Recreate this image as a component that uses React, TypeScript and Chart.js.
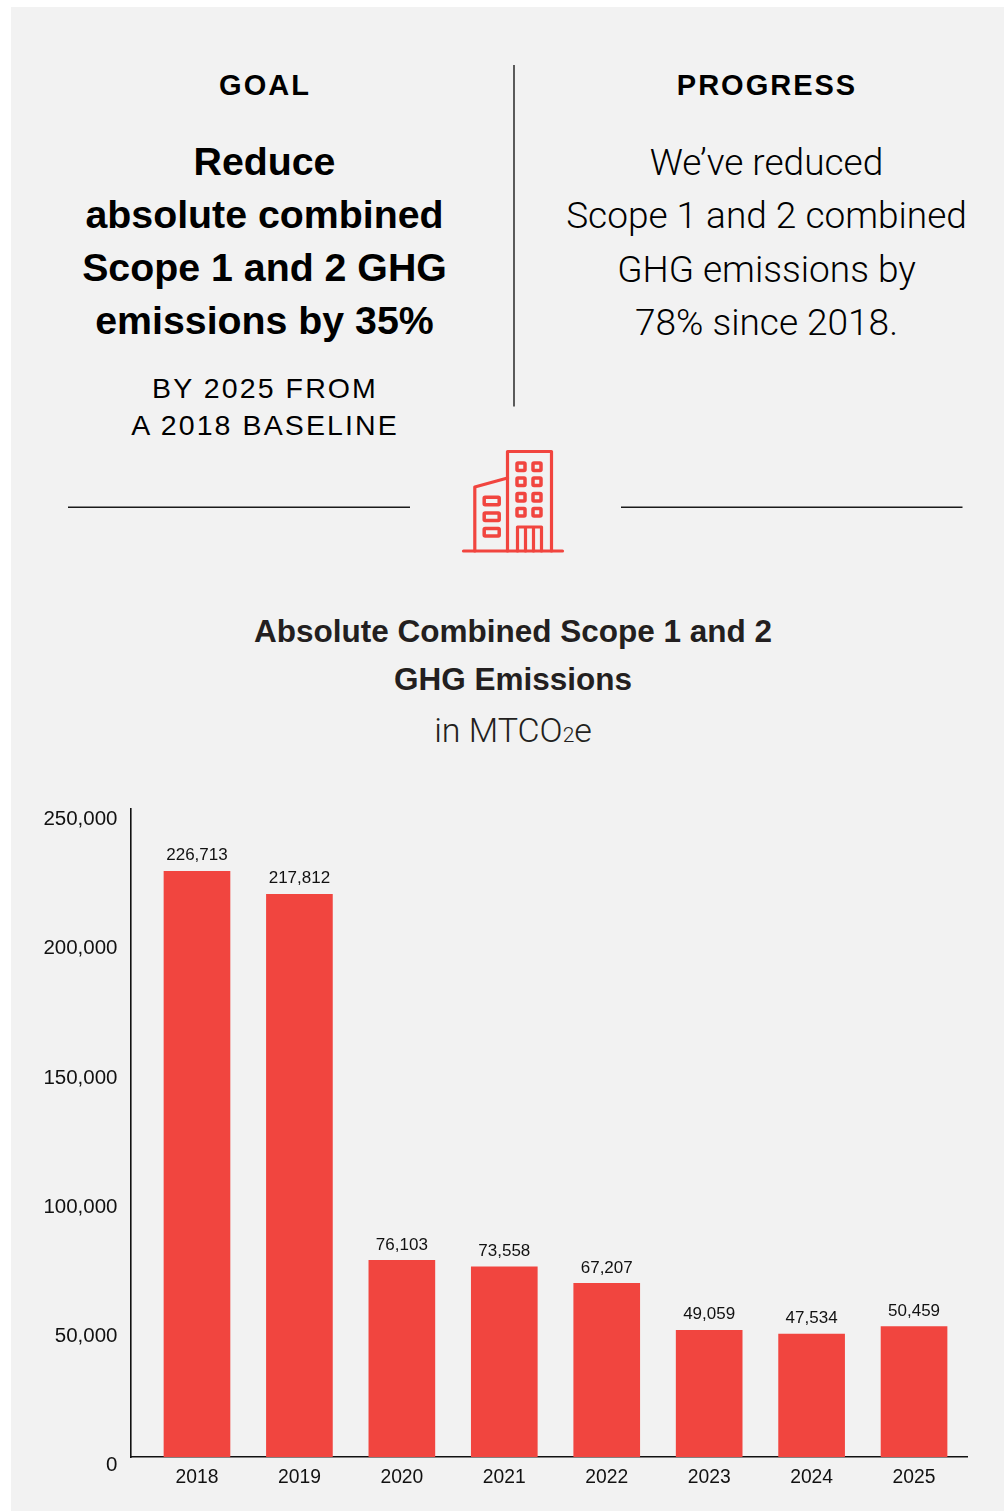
import React, { useEffect, useRef } from "react";
import { Chart, registerables } from "chart.js";

Chart.register(...registerables);

const years = [2018, 2019, 2020, 2021, 2022, 2023, 2024, 2025];
const emissions = [226713, 217812, 76103, 73558, 67207, 49059, 47534, 50459];
const yTicks = [0, 50000, 100000, 150000, 200000, 250000];

const goalLines = ["Reduce", "absolute combined", "Scope 1 and 2 GHG", "emissions by 35%"];
const goalSubLines = ["BY 2025 FROM", "A 2018 BASELINE"];
const progressLines = ["We\u2019ve reduced", "Scope 1 and 2 combined", "GHG emissions by", "78% since 2018."];
const titleLines = ["Absolute Combined Scope 1 and 2", "GHG Emissions"];

const RED = "#f1453f";
const FONT = '"Liberation Sans", Arial, sans-serif';
const LIGHT = 'Roboto, "Liberation Sans", sans-serif';
const fmt = (v: number) => v.toLocaleString("en-US");

const valueLabels = {
  id: "valueLabels",
  afterDatasetsDraw(chart: any) {
    const { ctx } = chart;
    const meta = chart.getDatasetMeta(0);
    ctx.save();
    ctx.font = `17px ${FONT}`;
    ctx.fillStyle = "#111";
    ctx.textAlign = "center";
    ctx.textBaseline = "middle";
    meta.data.forEach((bar: any, i: number) => {
      ctx.fillText(fmt(emissions[i]), bar.x, bar.y - 15.5);
    });
    ctx.restore();
  },
};

function Line({ cx, cy, size, weight, spacing, color, font, children }: any) {
  return (
    <div
      style={{
        position: "absolute",
        left: cx - 300,
        width: 600,
        top: cy - 40,
        height: 80,
        lineHeight: "80px",
        textAlign: "center",
        fontFamily: font ?? FONT,
        fontSize: size,
        fontWeight: weight ?? 400,
        letterSpacing: spacing ?? 0,
        color: color ?? "#000",
        whiteSpace: "nowrap",
      }}
    >
      {children}
    </div>
  );
}

function Decor() {
  const winX = [521, 537];
  const winY = [466.7, 481.7, 497.3, 512.3];
  const sideY = [501, 516.7, 532.3];
  return (
    <svg width={1004} height={600} style={{ position: "absolute", left: 0, top: 0 }} fill="none">
      <g stroke="#1a1a1a" strokeWidth={1.4}>
        <path d="M514 65V406.5" />
        <path d="M68 507.3H410" />
        <path d="M621 507.3H962.5" />
      </g>
      <g stroke={RED} strokeWidth={3.2} strokeLinejoin="round" strokeLinecap="round">
        <path d="M463.5 551H562.5" />
        <path d="M507.5 551V451.5H551.5V551" />
        <path d="M474.8 551V487L507.5 478" />
        {winX.map((x) => winY.map((y) => <rect key={`${x}-${y}`} x={x - 4} y={y - 3.8} width={8} height={7.6} rx={1} strokeWidth={3.5} />))}
        {sideY.map((y) => <rect key={y} x={484.2} y={y - 3.8} width={15} height={7.6} rx={1} strokeWidth={3.5} />)}
        <path d="M517.5 551V527H541.5V551M525.5 527V551M533.5 527V551" />
      </g>
    </svg>
  );
}

export default function App() {
  const ref = useRef<HTMLCanvasElement>(null);
  useEffect(() => {
    document.body.style.margin = "0";
    document.body.style.background = "#fff";
    const chart = new Chart(ref.current!, {
      type: "bar",
      data: {
        datasets: [
          {
            data: years.map((y, i) => ({ x: y, y: emissions[i] })),
            backgroundColor: RED,
            barThickness: 66,
          },
        ],
      },
      options: {
        animation: false,
        responsive: false,
        parsing: { xAxisKey: "x", yAxisKey: "y" },
        layout: { padding: { top: 0, right: 37, left: 0, bottom: 0 } },
        plugins: { legend: { display: false }, tooltip: { enabled: false } },
        scales: {
          x: {
            type: "linear",
            offset: false,
            min: 2017.351,
            max: 2025.517,
            afterBuildTicks: (s: any) => {
              s.ticks = years.map((v) => ({ value: v }));
            },
            afterFit: (s: any) => {
              s.height = 54;
            },
            grid: { display: false, drawTicks: false, offset: false },
            border: { display: true, color: "#111", width: 1.6 },
            ticks: {
              autoSkip: false,
              maxRotation: 0,
              padding: 9,
              color: "#111",
              font: { family: FONT, size: 19.3 },
              callback: (v: any) => String(v),
            },
          },
          y: {
            min: 0,
            max: 250680,
            afterBuildTicks: (s: any) => {
              s.ticks = yTicks.map((v) => ({ value: v }));
            },
            afterFit: (s: any) => {
              s.width = 130.5;
            },
            grid: { display: false, drawTicks: false },
            border: { display: true, color: "#111", width: 1.6 },
            ticks: {
              padding: 13,
              labelOffset: 8.5,
              color: "#111",
              font: { family: FONT, size: 20.5 },
              callback: (v: any) => fmt(Number(v)),
            },
          },
        },
      },
      plugins: [valueLabels],
    } as any);
    return () => chart.destroy();
  }, []);

  return (
    <div style={{ position: "relative", width: 1004, height: 1511, overflow: "hidden", fontFamily: FONT }}>
      <div style={{ position: "absolute", left: 11, top: 7, width: 993, height: 1504, background: "#f2f2f2" }} />
      <Line cx={265} cy={85} size={29} weight={700} spacing={2}>GOAL</Line>
      <Line cx={767} cy={85} size={29} weight={700} spacing={2}>PROGRESS</Line>
      {goalLines.map((t, i) => (
        <Line key={t} cx={264.5} cy={160.5 + i * 53.2} size={39.3} weight={700}>{t}</Line>
      ))}
      {goalSubLines.map((t, i) => (
        <Line key={t} cx={265} cy={388 + i * 37} size={28.5} spacing={2.1}>{t}</Line>
      ))}
      {progressLines.map((t, i) => (
        <Line key={t} cx={766.5} cy={162.5 + i * 53.5} size={37} weight={300} font={LIGHT}>{t}</Line>
      ))}
      <Decor />
      {titleLines.map((t, i) => (
        <Line key={t} cx={513} cy={631 + i * 48} size={31.5} weight={700} color="#231f20">{t}</Line>
      ))}
      <Line cx={513} cy={730} size={34} weight={300} color="#231f20" font={LIGHT}>
        in MTCO<span style={{ fontSize: 21 }}>2</span>e
      </Line>
      <canvas ref={ref} width={1004} height={727} style={{ position: "absolute", left: 0, top: 784, display: "block" }} />
    </div>
  );
}
